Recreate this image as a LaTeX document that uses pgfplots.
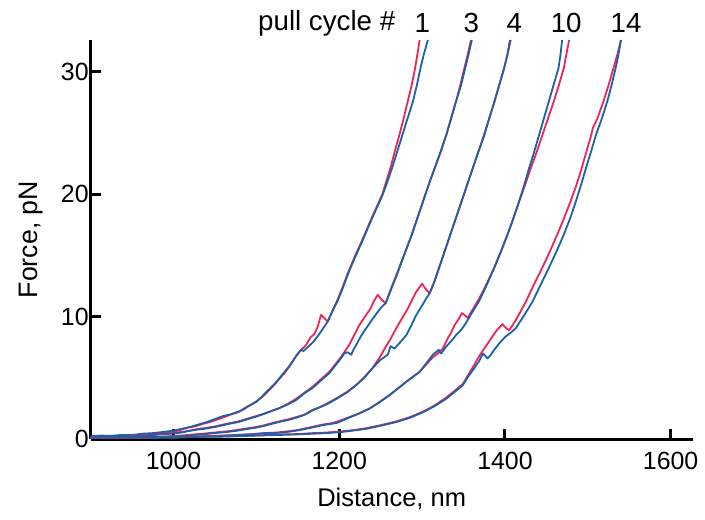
\documentclass[border=0pt]{standalone}
\usepackage{fontspec}
\setmainfont{Liberation Sans}
\usepackage{pgfplots}
\pgfplotsset{compat=1.18}

\definecolor{pullred}{RGB}{238,36,88}
\definecolor{pullblue}{RGB}{28,96,166}

\begin{document}
\begin{tikzpicture}
\begin{axis}[
  scale only axis,
  width=301bp, height=199.65bp,
  xmin=900, xmax=1626.5,
  ymin=0, ymax=32.6,
  axis x line=bottom, axis y line=left,
  axis line style={-, line width=1.5bp, black},
  xtick={1000,1200,1400,1600},
  ytick={0,10,20,30},
  tick align=inside,
  major tick length=5bp,
  tick style={line width=1.5bp, black},
  /pgf/number format/1000 sep={},
  /pgf/number format/assume math mode=true,
  ticklabel style={font=\fontsize{12.5}{14}\selectfont},
  xticklabel style={yshift=-3bp},
  yticklabel style={xshift=2.5bp},
  xlabel={Distance, nm},
  ylabel={Force, pN},
  xlabel style={font=\fontsize{12.8}{14}\selectfont, yshift=-2bp},
  ylabel style={font=\fontsize{13.4}{15}\selectfont, yshift=2bp},
  clip=true,
  every axis plot/.append style={line width=0.9pt, line join=round},
]
% cycle 1
\addplot[pullred] coordinates {
  (900,0.2) (912,0.12) (925,0.22) (937,0.27) (948,0.22) (960,0.32) (972,0.45)
  (985,0.5) (1000,0.62) (1008,0.75) (1017,0.95) (1026,1.05) (1035,1.25)
  (1046,1.45) (1057,1.7) (1070,2.05) (1078,2.2) (1085,2.45) (1093,2.8)
  (1100,3.1) (1107,3.45) (1114,3.9) (1121,4.4) (1128,4.95) (1134,5.4)
  (1140,5.95) (1148,6.8) (1154,7.3) (1160,7.7) (1165,8.3) (1170,8.6)
  (1174,9.2) (1178,10.15) (1182,9.9) (1186,9.6) (1192,10.5) (1198,11.4)
  (1204,12.4) (1210,13.5) (1218,14.8) (1226,16.0) (1233,17.1) (1240,18.2)
  (1246,19.1) (1252,20.0) (1257,21.1) (1262,22.2) (1267,23.5) (1272,24.7)
  (1277,26.0) (1282,27.4) (1287,28.8) (1291,30.1) (1294,31.3) (1297,32.6)
};
\addplot[pullblue] coordinates {
  (900,0.25) (912,0.3) (925,0.28) (937,0.35) (950,0.35) (962,0.45) (975,0.5)
  (988,0.6) (1000,0.7) (1010,0.85) (1020,1.0) (1030,1.2) (1040,1.4)
  (1050,1.65) (1060,1.9) (1070,2.05) (1080,2.3) (1090,2.7) (1100,3.05)
  (1107,3.5) (1114,4.0) (1121,4.45) (1128,5.0) (1134,5.5) (1140,6.0)
  (1146,6.6) (1150,7.0) (1154,7.3) (1157,7.2) (1160,7.4) (1168,7.9)
  (1174,8.4) (1180,9.0) (1186,9.6) (1192,10.5) (1198,11.3) (1204,12.3)
  (1210,13.4) (1218,14.7) (1226,15.9) (1233,17.0) (1240,18.1) (1246,19.0)
  (1252,19.9) (1258,21.0) (1264,22.2) (1270,23.5) (1276,24.8) (1282,26.1)
  (1289,27.6) (1294,29.0) (1298,30.3) (1302,31.4) (1307,32.6)
};
% cycle 3
\addplot[pullred] coordinates {
  (900,0.15) (915,0.12) (937,0.2) (955,0.3) (970,0.35) (985,0.45) (997,0.5)
  (1010,0.6) (1020,0.7) (1030,0.85) (1037,0.9) (1050,1.05) (1060,1.2)
  (1070,1.35) (1078,1.45) (1090,1.7) (1100,1.9) (1110,2.1) (1118,2.3)
  (1128,2.55) (1138,2.9) (1148,3.3) (1158,3.8) (1168,4.3) (1178,4.9)
  (1188,5.5) (1195,6.1) (1202,6.7) (1207,7.2) (1212,7.7) (1218,8.5)
  (1224,9.3) (1231,10.0) (1238,10.7) (1242,11.3) (1246.5,11.8) (1251,11.4)
  (1256,11.1) (1263,12.4) (1270,13.6) (1278,15.0) (1287,16.6) (1294,18.0)
  (1301,19.4) (1308,20.8) (1315,22.1) (1322,23.4) (1329,24.8) (1335,26.2)
  (1341,27.6) (1346,28.9) (1351,30.3) (1355,31.4) (1359,32.6)
};
\addplot[pullblue] coordinates {
  (900,0.2) (915,0.18) (937,0.22) (955,0.25) (970,0.3) (985,0.4) (997,0.45)
  (1010,0.55) (1020,0.7) (1030,0.8) (1037,0.85) (1050,1.0) (1060,1.15)
  (1070,1.3) (1078,1.4) (1090,1.65) (1100,1.85) (1110,2.1) (1118,2.3)
  (1128,2.55) (1138,2.85) (1148,3.2) (1158,3.75) (1168,4.2) (1178,4.8)
  (1188,5.4) (1195,6.0) (1202,6.6) (1206,7.0) (1210,7.1) (1214.5,6.9)
  (1217,7.3) (1220.5,7.7) (1226,8.4) (1232.5,9.06) (1240,9.8) (1246.5,10.4)
  (1251,10.8) (1256,11.1) (1263,12.3) (1270,13.5) (1278,15.0) (1287,16.6)
  (1294,18.0) (1301,19.4) (1308,20.8) (1315,22.1) (1322,23.4) (1329,24.8)
  (1335,26.2) (1341,27.6) (1347,28.9) (1352,30.3) (1356,31.4) (1360,32.6)
};
% cycle 4
\addplot[pullred] coordinates {
  (900,0.1) (930,0.08) (950,0.12) (980,0.2) (1000,0.25) (1017,0.35)
  (1035,0.45) (1050,0.55) (1065,0.65) (1077,0.76) (1090,0.9) (1100,1.0)
  (1110,1.15) (1118,1.3) (1130,1.5) (1140,1.65) (1150,1.85) (1158,2.0)
  (1168,2.35) (1176,2.6) (1185,2.9) (1198,3.4) (1210,3.9) (1220,4.4)
  (1230,5.05) (1240,5.8) (1248,6.6) (1256.6,7.6) (1262,8.2) (1268.7,9.06)
  (1276,9.9) (1283,10.7) (1288,11.4) (1293,12.05) (1300,12.7) (1304,12.3)
  (1309,11.9) (1315,12.9) (1320,13.9) (1325,14.9) (1332,16.3) (1339,17.7)
  (1346,19.1) (1353,20.5) (1360,21.9) (1367,23.3) (1375,24.9) (1381,26.2)
  (1387,27.5) (1393,28.9) (1399,30.3) (1403,31.4) (1407,32.6)
};
\addplot[pullblue] coordinates {
  (900,0.12) (930,0.12) (950,0.1) (980,0.18) (1000,0.22) (1017,0.3)
  (1035,0.4) (1050,0.5) (1065,0.6) (1077,0.7) (1090,0.85) (1100,0.95)
  (1110,1.1) (1118,1.25) (1130,1.45) (1140,1.6) (1150,1.8) (1158,2.0)
  (1168,2.4) (1176,2.6) (1185,2.85) (1198,3.35) (1210,3.85) (1220,4.4)
  (1230,5.0) (1240,5.8) (1250,6.5) (1258.6,6.9) (1262,7.6) (1266.6,7.4)
  (1272,7.8) (1281,8.5) (1287,9.3) (1293,10.15) (1299,10.8) (1305,11.5)
  (1309,11.9) (1315,12.9) (1320,13.9) (1325,14.9) (1332,16.3) (1339,17.7)
  (1346,19.1) (1353,20.5) (1360,21.9) (1367,23.3) (1375,24.8) (1381,26.2)
  (1387,27.5) (1393,28.9) (1399,30.3) (1403,31.4) (1406,32.6)
};
% cycle 10
\addplot[pullred] coordinates {
  (900,0.1) (950,0.12) (1000,0.15) (1040,0.25) (1077,0.35) (1095,0.42)
  (1110,0.5) (1125,0.55) (1138,0.65) (1150,0.75) (1160,0.9) (1170,1.05)
  (1180,1.2) (1190,1.3) (1198,1.45) (1208,1.7) (1222,2.05) (1236.5,2.5)
  (1248,3.0) (1260.6,3.6) (1270,4.1) (1281,4.7) (1289,5.1) (1297,5.5)
  (1305,6.1) (1313,6.7) (1319,7.0) (1325,7.4) (1331,8.25) (1335,8.7)
  (1339,9.3) (1344,9.8) (1348,10.3) (1352,10.1) (1355,9.9) (1362,10.7)
  (1369,11.5) (1378,12.7) (1387,14.0) (1395,15.3) (1403,16.7) (1410,18.0)
  (1417,19.4) (1424,20.7) (1431,22.1) (1438,23.4) (1445,24.8) (1452,26.2)
  (1459,27.6) (1465,28.9) (1471,30.3) (1474,31.4) (1477.5,32.6)
};
\addplot[pullblue] coordinates {
  (900,0.12) (950,0.1) (1000,0.12) (1040,0.22) (1077,0.35) (1095,0.4)
  (1110,0.5) (1125,0.52) (1138,0.6) (1150,0.72) (1160,0.85) (1170,1.0)
  (1180,1.15) (1190,1.25) (1198,1.35) (1208,1.65) (1222,2.05) (1236.5,2.5)
  (1248,3.0) (1260.6,3.6) (1270,4.1) (1281,4.7) (1289,5.1) (1297,5.5)
  (1305,6.2) (1313,6.9) (1320,7.3) (1323,7.0) (1329,7.56) (1335,8.0)
  (1341,8.5) (1348,9.0) (1353,9.5) (1359,10.2) (1369,11.3) (1378,12.6)
  (1387,14.0) (1395,15.3) (1403,16.7) (1410,18.0) (1417,19.4) (1423,20.7)
  (1429,22.1) (1435,23.4) (1441,24.8) (1447,26.2) (1453,27.6) (1459,29.0)
  (1464.6,30.3) (1467,31.4) (1469,32.6)
};
% cycle 14
\addplot[pullred] coordinates {
  (900,0.15) (950,0.12) (1000,0.2) (1050,0.22) (1100,0.3) (1128,0.4)
  (1150,0.42) (1168,0.5) (1185,0.55) (1204,0.65) (1218,0.75) (1232.5,0.9)
  (1250,1.15) (1268.6,1.45) (1285,1.8) (1301,2.25) (1315,2.75) (1329,3.4)
  (1340,4.0) (1349,4.5) (1357,5.4) (1363,6.1) (1369,6.8) (1375,7.4)
  (1382,8.1) (1389,8.8) (1397,9.4) (1401,9.1) (1405,8.9) (1411,9.5)
  (1417,10.2) (1425,11.2) (1434,12.5) (1445,14.0) (1454,15.3) (1463,16.7)
  (1471,18.0) (1479,19.4) (1486,20.7) (1492,22.0) (1498,23.4) (1504,24.8)
  (1506,25.4) (1511,26.1) (1519,27.6) (1525,28.9) (1531,30.3) (1536,31.5)
  (1540,32.6)
};
\addplot[pullblue] coordinates {
  (900,0.15) (950,0.15) (1000,0.2) (1050,0.2) (1100,0.3) (1128,0.35)
  (1150,0.4) (1168,0.45) (1185,0.5) (1204,0.6) (1218,0.72) (1232.5,0.85)
  (1250,1.1) (1268.6,1.4) (1285,1.75) (1301,2.2) (1315,2.7) (1329,3.3)
  (1340,3.9) (1349,4.4) (1357,5.25) (1363,5.8) (1369,6.4) (1373.5,7.0)
  (1379,6.6) (1383,6.9) (1387,7.3) (1394,7.9) (1401,8.4) (1407,8.7)
  (1413,9.06) (1423,10.1) (1433,11.2) (1443,12.6) (1453,14.0) (1462,15.3)
  (1471,16.7) (1479,18.1) (1485.5,19.4) (1492,20.8) (1497.6,22.1)
  (1504,23.5) (1509.6,24.8) (1517,26.2) (1523.6,27.6) (1529,29.0)
  (1533.6,30.3) (1537,31.4) (1540,32.6)
};
\end{axis}
\begin{axis}[
  scale only axis,
  width=301bp, height=199.65bp,
  xmin=900, xmax=1626.5,
  ymin=0, ymax=32.6,
  hide axis, clip=false,
]
\path (rel axis cs:-0.1507,-0.2021) rectangle (rel axis cs:1.0204,1.1002);
\node[anchor=east, font=\fontsize{13.9}{15}\selectfont, inner sep=0pt] at (axis cs:1268,34.0) {pull cycle \#};
\node[font=\fontsize{13.9}{15}\selectfont, inner sep=0pt] at (axis cs:1300.4,34.0) {1};
\node[font=\fontsize{13.9}{15}\selectfont, inner sep=0pt] at (axis cs:1359.4,34.0) {3};
\node[font=\fontsize{13.9}{15}\selectfont, inner sep=0pt] at (axis cs:1411.2,34.0) {4};
\node[font=\fontsize{13.9}{15}\selectfont, inner sep=0pt] at (axis cs:1473.9,34.0) {10};
\node[font=\fontsize{13.9}{15}\selectfont, inner sep=0pt] at (axis cs:1546.1,34.0) {14};
\end{axis}
\end{tikzpicture}
\end{document}
